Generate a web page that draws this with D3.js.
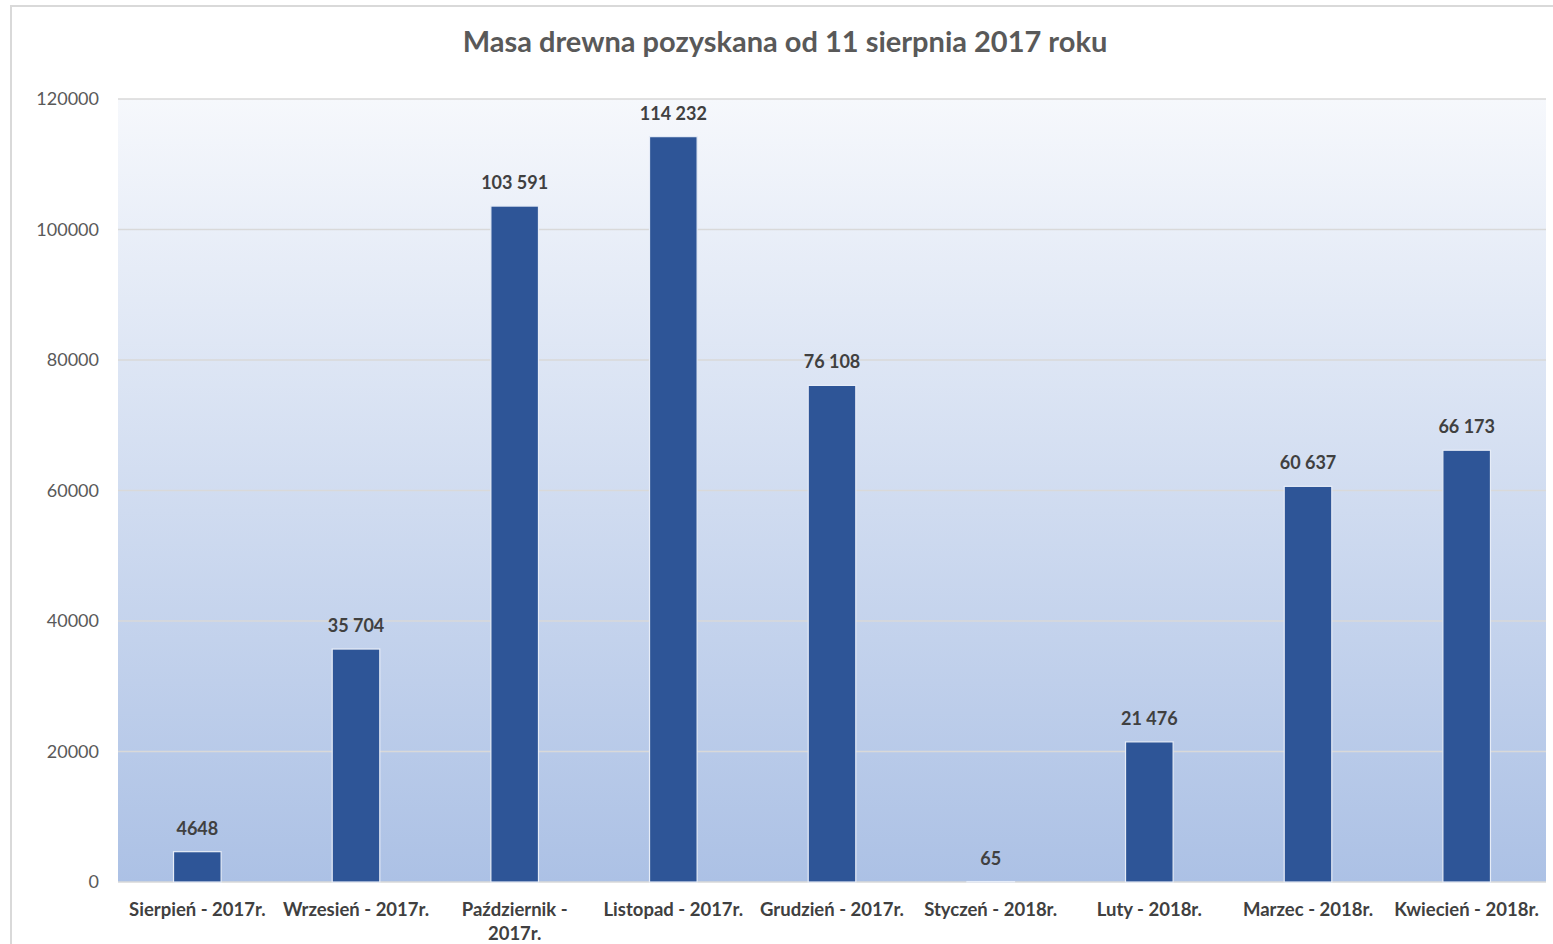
<!DOCTYPE html>
<html>
<head>
<meta charset="utf-8">
<script src="https://cdn.jsdelivr.net/npm/d3@7"></script>
<style>
  body { margin: 0; background: #fff; }
  svg { display: block; font-family: Lato, "Open Sans", sans-serif; }
</style>
</head>
<body>
<svg width="1553" height="944"></svg>
<script>
// dane z wykresu
var miesiace = ["Sierpień - 2017r.", "Wrzesień - 2017r.", "Październik - 2017r.", "Listopad - 2017r.",
                "Grudzień - 2017r.", "Styczeń - 2018r.", "Luty - 2018r.", "Marzec - 2018r.", "Kwiecień - 2018r."];
var masa = [4648, 35704, 103591, 114232, 76108, 65, 21476, 60637, 66173];
var tickiY = [0, 20000, 40000, 60000, 80000, 100000, 120000];
var tytul = "Masa drewna pozyskana od 11 sierpnia 2017 roku";

var svg = d3.select("svg"),
    margin = {top: 99, right: 7, bottom: 62, left: 118},
    width = +svg.attr("width") - margin.left - margin.right,
    height = +svg.attr("height") - margin.top - margin.bottom;

// ramka wykresu
svg.append("rect")
    .attr("x", 11).attr("y", 6)
    .attr("width", 1560).attr("height", 960)
    .attr("fill", "none")
    .attr("stroke", "#d9d9d9")
    .attr("stroke-width", 2);

var defs = svg.append("defs");
var grad = defs.append("linearGradient")
    .attr("id", "tlo")
    .attr("x1", 0).attr("y1", 0).attr("x2", 0).attr("y2", 1);
grad.append("stop").attr("offset", "0%").attr("stop-color", "#f6f8fc");
grad.append("stop").attr("offset", "100%").attr("stop-color", "#acc1e5");

svg.append("text")
    .attr("x", 785).attr("y", 52)
    .attr("text-anchor", "middle")
    .attr("font-size", 29)
    .attr("font-weight", "bold")
    .attr("fill", "#595959")
    .text(tytul);

var g = svg.append("g").attr("transform", "translate(" + margin.left + "," + margin.top + ")");

var x = d3.scaleBand()
    .domain(miesiace)
    .range([0, width])
    .paddingInner(0.7)
    .paddingOuter(0.35);

var y = d3.scaleLinear()
    .domain([0, 120000])
    .range([height, 0]);

g.append("rect")
    .attr("width", width).attr("height", height)
    .attr("fill", "url(#tlo)");

// linie siatki
g.append("g")
    .selectAll("line")
    .data(tickiY)
    .enter().append("line")
    .attr("x1", 0).attr("x2", width)
    .attr("y1", function(d) { return y(d); })
    .attr("y2", function(d) { return y(d); })
    .attr("stroke", "#d9d9d9")
    .attr("stroke-width", 1.5);

var osY = g.append("g")
    .call(d3.axisLeft(y).tickValues(tickiY).tickFormat(d3.format("d")).tickSize(0).tickPadding(19));
osY.select(".domain").remove();
osY.selectAll("text")
    .attr("font-size", 18)
    .attr("fill", "#595959")
    .attr("font-family", "Lato, sans-serif");

g.selectAll(".bar")
    .data(masa)
    .enter().append("rect")
    .attr("class", "bar")
    .attr("x", function(d, i) { return x(miesiace[i]); })
    .attr("y", function(d) { return y(d); })
    .attr("width", x.bandwidth())
    .attr("height", function(d) { return height - y(d); })
    .attr("fill", "#2e5597")
    .attr("stroke", "#e6ecf7")
    .attr("stroke-width", 1.2);

// format etykiet: spacja jako separator tysięcy dla liczb >= 10000
var fmtPl = d3.formatLocale({decimal: ",", thousands: " ", grouping: [3], currency: ["", " zł"]}).format(",d");
function etykieta(v) { return v >= 10000 ? fmtPl(v) : String(v); }

g.selectAll(".lbl")
    .data(masa)
    .enter().append("text")
    .attr("class", "lbl")
    .attr("x", function(d, i) { return x(miesiace[i]) + x.bandwidth() / 2; })
    .attr("y", function(d) { return y(d) - 17; })
    .attr("text-anchor", "middle")
    .attr("font-size", 18)
    .attr("font-weight", "bold")
    .attr("fill", "#404040")
    .text(etykieta);

var osX = g.append("g")
    .attr("transform", "translate(0," + height + ")")
    .call(d3.axisBottom(x).tickSize(0).tickPadding(21));
osX.select(".domain").remove();
osX.selectAll("text")
    .attr("font-size", 18.5)
    .attr("font-weight", "bold")
    .attr("fill", "#404040")
    .attr("font-family", "Lato, sans-serif")
    .call(zawin, x.step() - 8);

function zawin(teksty, szer) {
  teksty.each(function() {
    var t = d3.select(this),
        slowa = t.text().split(/\s+/),
        yy = t.attr("y"),
        dy = parseFloat(t.attr("dy")),
        linia = [],
        nr = 0,
        ts = t.text(null).append("tspan").attr("x", 0).attr("y", yy).attr("dy", dy + "em");
    slowa.forEach(function(s) {
      linia.push(s);
      ts.text(linia.join(" "));
      if (ts.node().getComputedTextLength() > szer && linia.length > 1) {
        linia.pop();
        ts.text(linia.join(" "));
        linia = [s];
        ts = t.append("tspan").attr("x", 0).attr("y", yy).attr("dy", (++nr * 1.3 + dy) + "em").text(s);
      }
    });
  });
}
</script>
</body>
</html>
